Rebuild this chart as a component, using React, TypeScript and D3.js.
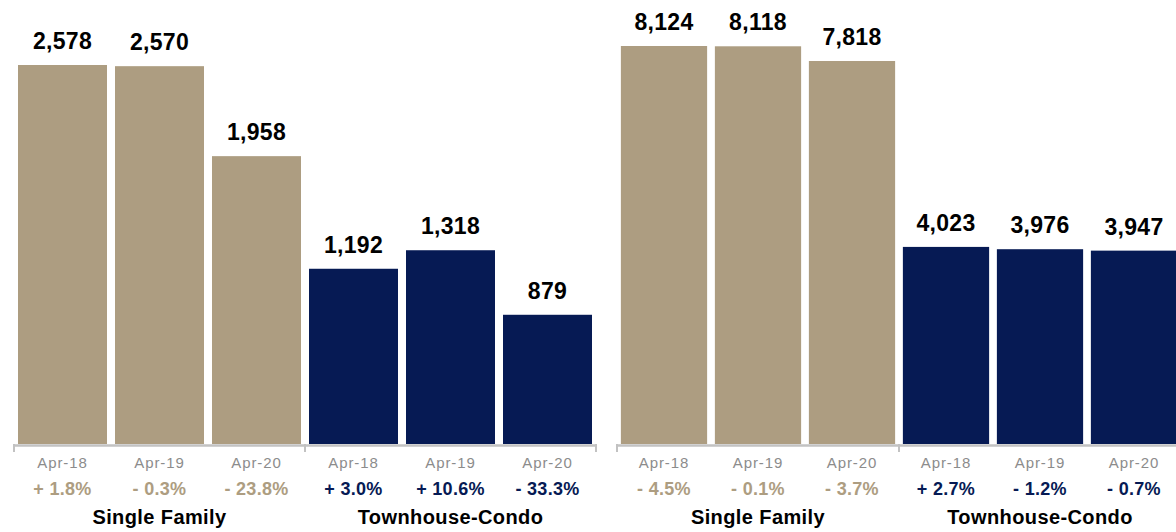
import React from "react";
import * as d3 from "d3";

const periods = ["Apr-18", "Apr-19", "Apr-20"];
const groups = ["Single Family", "Townhouse-Condo"];

// left panel
const leftSingle = [2578, 2570, 1958];
const leftTown = [1192, 1318, 879];
const leftSingleChg = ["+ 1.8%", "- 0.3%", "- 23.8%"];
const leftTownChg = ["+ 3.0%", "+ 10.6%", "- 33.3%"];

// right panel
const rightSingle = [8124, 8118, 7818];
const rightTown = [4023, 3976, 3947];
const rightSingleChg = ["- 4.5%", "- 0.1%", "- 3.7%"];
const rightTownChg = ["+ 2.7%", "- 1.2%", "- 0.7%"];

const TAN = "#ad9d81";
const NAVY = "#061a54";
const FONT = "'Liberation Sans', Arial, Helvetica, sans-serif";
const BASE = 444;

interface PanelProps {
  x0: number;
  x1: number;
  top: number;
  single: number[];
  town: number[];
  singleChg: string[];
  townChg: string[];
}

function Panel({ x0, x1, top, single, town, singleChg, townChg }: PanelProps) {
  const values = [...single, ...town];
  const changes = [...singleChg, ...townChg];
  const keys = values.map((_, i) => String(i));
  const pad = 0.0825;
  const x = d3.scaleBand().domain(keys).range([x0, x1]).paddingInner(pad).paddingOuter(pad / 2);
  const y = d3.scaleLinear().domain([0, d3.max(values)!]).range([BASE, top]);
  const fmt = d3.format(",");
  const step = x.step();
  const groupEdges = [x0, x0 + step * 3, x1];

  return (
    <g>
      {values.map((v, i) => {
        const color = i < 3 ? TAN : NAVY;
        const cx = x(keys[i])! + x.bandwidth() / 2;
        return (
          <g key={i}>
            <rect x={x(keys[i])} y={y(v)} width={x.bandwidth()} height={BASE - y(v)} fill={color} />
            <text x={cx} y={y(v) - 16} textAnchor="middle" fontSize={23} fontWeight="bold" fill="#000" letterSpacing={0.3}>
              {fmt(v)}
            </text>
            <text x={cx} y={468} textAnchor="middle" fontSize={15} fill="#8c8c8c" letterSpacing={0.9}>
              {periods[i % 3]}
            </text>
            <text x={cx} y={495} textAnchor="middle" fontSize={18} fontWeight="bold" fill={color} letterSpacing={0.3}>
              {changes[i]}
            </text>
          </g>
        );
      })}
      {/* bracket axis */}
      <line x1={x0} x2={x1} y1={445.5} y2={445.5} stroke="#c2c2c2" strokeWidth={2.5} />
      {groupEdges.map((gx, i) => (
        <line key={i} x1={gx} x2={gx} y1={444} y2={452} stroke="#c2c2c2" strokeWidth={2} />
      ))}
      {groups.map((g, i) => (
        <text key={g} x={(groupEdges[i] + groupEdges[i + 1]) / 2} y={524} textAnchor="middle" fontSize={20} fontWeight="bold" fill="#000" letterSpacing={0.4}>
          {g}
        </text>
      ))}
    </g>
  );
}

export default function App() {
  return (
    <svg width={1176} height={532} style={{ position: "absolute", left: 0, top: 0, background: "#fff" }} fontFamily={FONT}>
      <Panel x0={14} x1={596} top={65} single={leftSingle} town={leftTown} singleChg={leftSingleChg} townChg={leftTownChg} />
      <Panel x0={617} x1={1181} top={46} single={rightSingle} town={rightTown} singleChg={rightSingleChg} townChg={rightTownChg} />
    </svg>
  );
}
